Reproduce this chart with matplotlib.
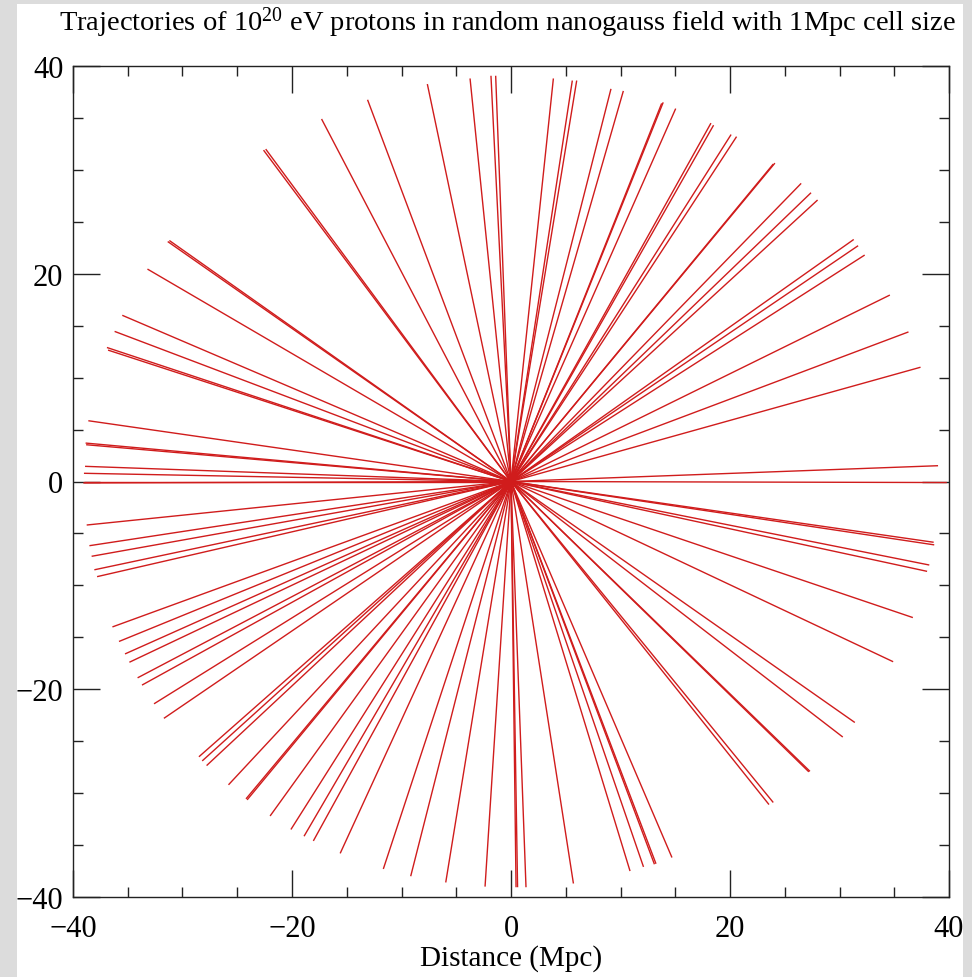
import matplotlib
matplotlib.use("Agg")
import matplotlib.pyplot as plt
from matplotlib.patches import Rectangle
from matplotlib.ticker import MultipleLocator

plt.rcParams['font.family'] = ['Liberation Serif', 'DejaVu Serif']
plt.rcParams['mathtext.fontset'] = 'custom'
plt.rcParams['mathtext.rm'] = 'Liberation Serif'
plt.rcParams['mathtext.it'] = 'Liberation Serif'

# Trajectory end points (Mpc); every trajectory starts at the origin
end_x = [39.8, 39.0, 37.4, 36.3, 34.6, 32.3, 31.7, 31.3, 28.0, 27.4, 26.5, 24.1, 23.95,
         20.6, 20.1, 18.5, 18.26, 15.04, 13.9, 13.76, 10.26, 9.13, 6.0, 5.6, 3.87,
         -1.4, -1.83, -3.74, -7.64, -13.1, -17.3, -22.4, -22.6, -31.2, -31.35, -33.2,
         -35.5, -36.2, -36.8, -36.9, -38.6, -38.8, -38.85, -38.9, -39.0, -39.06, -39.0,
         -38.75, -38.5, -38.3, -38.05, -37.8, -36.4, -35.8, -35.25, -34.85, -34.1, -33.7,
         -32.6, -31.7, -28.5, -28.2, -27.8, -25.8, -24.2, -24.1, -22.0, -20.1, -18.9,
         -18.05, -15.6, -11.66, -9.16, -5.96, -2.37, 0.46, 0.6, 1.37, 5.7, 10.87, 12.1,
         13.24, 13.1, 14.7, 23.56, 23.95, 27.3, 27.2, 30.3, 31.4, 34.9, 36.7, 38.0, 38.2,
         38.65, 38.6]
end_y = [-0.1, 1.52, 11.0, 14.4, 17.95, 21.8, 22.7, 23.3, 27.1, 27.8, 28.7, 30.65, 30.56,
         33.2, 33.4, 34.3, 34.5, 35.9, 36.5, 36.4, 37.6, 37.8, 38.6, 38.6, 38.8,
         39.06, 39.06, 38.8, 38.26, 36.75, 34.9, 32.0, 31.9, 23.2, 23.1, 20.45,
         16.0, 14.45, 12.65, 12.9, 5.85, 3.54, 3.7, 1.46, 0.79, -0.14, 0.0,
         -4.19, -6.18, -7.2, -8.5, -9.16, -14.0, -15.4, -16.6, -17.4, -18.9, -19.6,
         -21.4, -22.8, -26.5, -26.9, -27.35, -29.2, -30.55, -30.65, -32.2, -33.5, -34.15,
         -34.6, -35.8, -37.3, -38.0, -38.6, -39.0, -39.06, -39.06, -39.06, -38.7, -37.5, -37.1,
         -36.8, -36.85, -36.2, -31.1, -30.9, -27.9, -27.95, -24.6, -23.2, -17.35, -13.1, -8.65, -8.04,
         -6.1, -5.85]

major_ticks = [-40, -20, 0, 20, 40]

fig = plt.figure(figsize=(9.72, 9.78), dpi=100, facecolor='#dcdcdc')
fig.patches.append(Rectangle((17 / 972, 0), 946 / 972, 973 / 978, transform=fig.transFigure,
                             facecolor='white', edgecolor='none', zorder=-10))

ax = fig.add_axes([73 / 972, 1 - 898 / 978, 876 / 972, 831 / 978])
ax.set_zorder(1)
for x, y in zip(end_x, end_y):
    ax.plot([0, x], [0, y], color='#d01c1c', lw=1.0, solid_capstyle='butt')

ax.set_xlim(-40, 40)
ax.set_ylim(-40, 40)
ax.set_xticks(major_ticks)
ax.set_yticks(major_ticks)
ax.xaxis.set_minor_locator(MultipleLocator(5))
ax.yaxis.set_minor_locator(MultipleLocator(5))
ax.tick_params(which='both', direction='in', top=True, right=True, color='#222222', width=1.0)
ax.tick_params(which='major', length=19.5, labelsize=22)
ax.tick_params(which='minor', length=7.2)
ax.tick_params(axis='x', which='major', pad=12)
ax.tick_params(axis='y', which='major', pad=7)
for s in ax.spines.values():
    s.set_color('#222222')
    s.set_linewidth(1.0)

ax.set_xlabel('Distance (Mpc)', fontsize=21, labelpad=1)

fig.text(0.522, 1 - 31 / 978, r'Trajectories of 10$^{20}$ eV protons in random nanogauss field with 1Mpc cell size',
         ha='center', va='baseline', fontsize=20.5)

fig.savefig('out.png', dpi=100, facecolor=fig.get_facecolor())
